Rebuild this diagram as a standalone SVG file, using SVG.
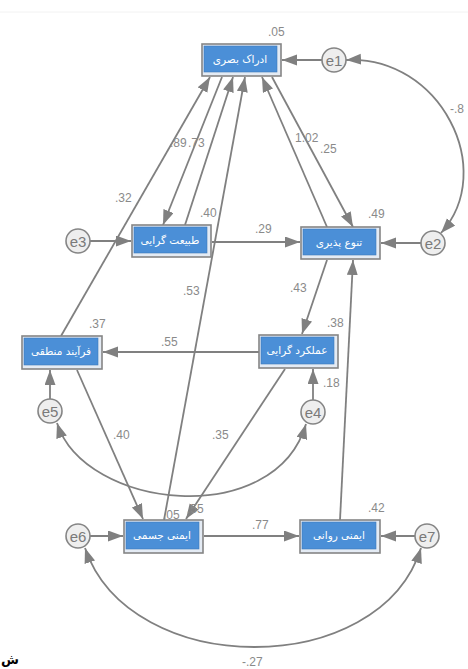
<svg xmlns="http://www.w3.org/2000/svg" width="468" height="669" viewBox="0 0 468 669">
<style>
.bg{fill:#ffffff}
.box{fill:#e4ebf4;stroke:#858585;stroke-width:1.6}
.inner{fill:#4b8fd7;stroke:#3f79b8;stroke-width:0.6}
.lbl{font-family:"DejaVu Sans","Noto Sans",sans-serif;font-size:10.5px;fill:#ffffff;text-anchor:middle}
.err{fill:#eeeeee;stroke:#858585;stroke-width:1.6}
.etx{font-family:"Liberation Sans",Arial,sans-serif;font-size:15px;fill:#7a7a7a;text-anchor:middle}
.num{font-family:"Liberation Sans",Arial,sans-serif;font-size:12px;fill:#8a8a8a}
.ln{fill:none;stroke:#808080;stroke-width:1.8}
</style>
<defs>
<marker id="ah" markerUnits="userSpaceOnUse" markerWidth="16" markerHeight="12" refX="15" refY="5.5" orient="auto-start-reverse" viewBox="0 0 16 12">
<path d="M0,0 L15,5.5 L0,11 z" fill="#808080"/>
</marker>
</defs>
<rect class="bg" x="0" y="0" width="468" height="669"/>
<line x1="0" y1="12" x2="468" y2="12" stroke="#f2f2f2" stroke-width="1"/>

<g id="connectors">
<path class="ln" d="M61,336 L210,77" marker-end="url(#ah)"/>
<path class="ln" d="M222,77 L163,225" marker-end="url(#ah)"/>
<path class="ln" d="M185,225 L233,77" marker-end="url(#ah)"/>
<path class="ln" d="M164,520 L245,77" marker-end="url(#ah)"/>
<path class="ln" d="M327,227 L262,77" marker-end="url(#ah)"/>
<path class="ln" d="M272,77 L353,227" marker-end="url(#ah)"/>
<path class="ln" d="M322,60 L282,60" marker-end="url(#ah)"/>
<path class="ln" d="M90,241 L131,241" marker-end="url(#ah)"/>
<path class="ln" d="M212,242 L300,242" marker-end="url(#ah)"/>
<path class="ln" d="M421,243 L381,243" marker-end="url(#ah)"/>
<path class="ln" d="M327,260 L302,334" marker-end="url(#ah)"/>
<path class="ln" d="M340,520 L353,260" marker-end="url(#ah)"/>
<path class="ln" d="M259,352 L103,352" marker-end="url(#ah)"/>
<path class="ln" d="M50,399 L50,370" marker-end="url(#ah)"/>
<path class="ln" d="M313,400 L313,369" marker-end="url(#ah)"/>
<path class="ln" d="M77,370 L143,519" marker-end="url(#ah)"/>
<path class="ln" d="M285,369 L186,519" marker-end="url(#ah)"/>
<path class="ln" d="M204,536 L299,536" marker-end="url(#ah)"/>
<path class="ln" d="M90,536 L123,536" marker-end="url(#ah)"/>
<path class="ln" d="M415,536 L381,536" marker-end="url(#ah)"/>
<path class="ln" d="M346,60 C440,55 498,170 441,233" marker-start="url(#ah)" marker-end="url(#ah)"/>
<path class="ln" d="M57,423 C85,510 275,530 306,424" marker-start="url(#ah)" marker-end="url(#ah)"/>
<path class="ln" d="M85,548 C130,680 380,680 421,548" marker-start="url(#ah)" marker-end="url(#ah)"/>
</g>

<g id="n-edrak">
<rect class="box" x="202" y="44" width="79" height="32"/>
<rect class="inner" x="204" y="46" width="73" height="26"/>
<text class="lbl" x="240" y="63">ادراک بصری</text>
</g>
<g id="n-tabiat">
<rect class="box" x="132" y="225" width="79" height="32"/>
<rect class="inner" x="134" y="227" width="73" height="26"/>
<text class="lbl" x="170" y="244">طبیعت گرایی</text>
</g>
<g id="n-tanavo">
<rect class="box" x="301" y="227" width="79" height="32"/>
<rect class="inner" x="303" y="229" width="73" height="26"/>
<text class="lbl" x="339" y="246">تنوع پذیری</text>
</g>
<g id="n-farayand">
<rect class="box" x="22" y="336" width="80" height="33"/>
<rect class="inner" x="24" y="338" width="74" height="27"/>
<text class="lbl" x="61" y="355">فرآیند منطقی</text>
</g>
<g id="n-amalkard">
<rect class="box" x="259" y="335" width="79" height="33"/>
<rect class="inner" x="261" y="337" width="73" height="27"/>
<text class="lbl" x="297" y="354">عملکرد گرایی</text>
</g>
<g id="n-jesmi">
<rect class="box" x="124" y="520" width="79" height="33"/>
<rect class="inner" x="126" y="522" width="73" height="27"/>
<text class="lbl" x="162" y="539">ایمنی جسمی</text>
</g>
<g id="n-ravani">
<rect class="box" x="300" y="520" width="80" height="33"/>
<rect class="inner" x="302" y="522" width="74" height="27"/>
<text class="lbl" x="339" y="539">ایمنی روانی</text>
</g>

<g id="e1"><circle class="err" cx="334" cy="60" r="12"/><text class="etx" x="334" y="65.5">e1</text></g>
<g id="e2"><circle class="err" cx="433" cy="243" r="12"/><text class="etx" x="433" y="248.5">e2</text></g>
<g id="e3"><circle class="err" cx="78" cy="241" r="12"/><text class="etx" x="78" y="246.5">e3</text></g>
<g id="e4"><circle class="err" cx="313" cy="412" r="12"/><text class="etx" x="313" y="417.5">e4</text></g>
<g id="e5"><circle class="err" cx="50" cy="411" r="12"/><text class="etx" x="50" y="416.5">e5</text></g>
<g id="e6"><circle class="err" cx="78" cy="536" r="12"/><text class="etx" x="78" y="541.5">e6</text></g>
<g id="e7"><circle class="err" cx="427" cy="536" r="12"/><text class="etx" x="427" y="541.5">e7</text></g>

<g id="labels">
<text class="num" x="268" y="36">.05</text>
<text class="num" x="450" y="113">-.8</text>
<text class="num" x="170" y="147">.89</text>
<text class="num" x="188" y="147">.73</text>
<text class="num" x="295" y="142">1.02</text>
<text class="num" x="320" y="153">.25</text>
<text class="num" x="115" y="202">.32</text>
<text class="num" x="200" y="217">.40</text>
<text class="num" x="255" y="233">.29</text>
<text class="num" x="368" y="218">.49</text>
<text class="num" x="183" y="295">.53</text>
<text class="num" x="89" y="328">.37</text>
<text class="num" x="290" y="292">.43</text>
<text class="num" x="327" y="327">.38</text>
<text class="num" x="161" y="346">.55</text>
<text class="num" x="323" y="387">.18</text>
<text class="num" x="113" y="439">.40</text>
<text class="num" x="212" y="439">.35</text>
<text class="num" x="368" y="512">.42</text>
<text class="num" x="163" y="519">.05</text>
<text class="num" x="187" y="513">.55</text>
<text class="num" x="252" y="529">.77</text>
<text class="num" x="242" y="666">-.27</text>
</g>
<text x="1" y="664" font-family="DejaVu Sans,sans-serif" font-size="13" font-weight="bold" fill="#000">ش</text>
</svg>
